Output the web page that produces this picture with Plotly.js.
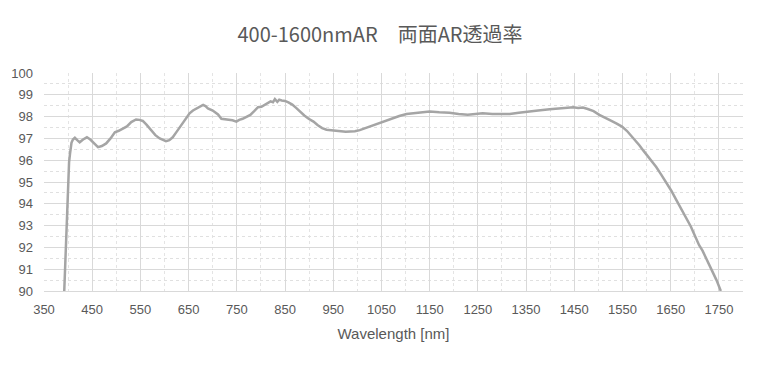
<!DOCTYPE html>
<html>
<head>
<meta charset="utf-8">
<script src="https://cdn.plot.ly/plotly-3.0.1.min.js"></script>
<style>html,body{margin:0;padding:0;background:#fff;}#chart{width:760px;height:365px;}</style>
</head>
<body>
<div id="chart"></div>
<script>
const chartTitle = "400-1600nmAR\u3000両面AR透過率";
const xAxisTitle = "Wavelength [nm]";
const wavelength = [392,395,398,400,402,404,407,410,414,419,424,431,439,446,454,462,470,479,488,497,505,514,522,531,541,548,555,563,572,581,590,597,603,610,617,625,634,643,652,659,666,673,680,685,690,700,711,718,725,733,741,749,755,762,770,778,786,794,801,808,815,820,825,829,834,838,843,850,857,865,873,881,890,899,909,918,927,936,946,957,966,976,986,995,1005,1015,1024,1032,1046,1060,1073,1087,1102,1116,1130,1150,1170,1191,1210,1229,1245,1260,1280,1300,1316,1335,1350,1375,1399,1420,1435,1448,1458,1468,1478,1490,1502,1515,1527,1538,1549,1559,1568,1577,1585,1593,1602,1610,1620,1630,1640,1651,1661,1671,1682,1692,1700,1709,1716,1726,1735,1745,1754];
const transmittance = [90.0,91.8,94.2,95.3,95.9,96.3,96.8,96.95,97.03,96.92,96.82,96.95,97.05,96.95,96.75,96.6,96.65,96.77,97.0,97.28,97.35,97.47,97.55,97.75,97.87,97.85,97.8,97.62,97.38,97.15,97.0,96.92,96.87,96.92,97.05,97.3,97.6,97.9,98.15,98.28,98.38,98.47,98.54,98.48,98.38,98.28,98.1,97.9,97.88,97.85,97.83,97.77,97.85,97.9,98.0,98.08,98.25,98.43,98.45,98.55,98.62,98.7,98.66,98.8,98.68,98.78,98.74,98.72,98.65,98.55,98.4,98.23,98.05,97.9,97.77,97.6,97.47,97.4,97.38,97.38,97.33,97.3,97.3,97.33,97.38,97.46,97.54,97.61,97.72,97.84,97.95,98.03,98.12,98.16,98.2,98.23,98.2,98.18,98.12,98.08,98.12,98.15,98.12,98.13,98.12,98.18,98.23,98.28,98.34,98.38,98.4,98.43,98.4,98.42,98.35,98.25,98.08,97.95,97.8,97.68,97.54,97.35,97.12,96.92,96.69,96.45,96.2,96.0,95.69,95.35,95.0,94.61,94.2,93.8,93.38,92.95,92.55,92.1,91.85,91.4,90.95,90.5,90.0];
const xTickValues = [350,450,550,650,750,850,950,1050,1150,1250,1350,1450,1550,1650,1750];
const yTickValues = [90,91,92,93,94,95,96,97,98,99,100];

const tickFont = {family: "'Liberation Sans Narrow', 'Liberation Sans', sans-serif", size: 13, color: "#595959"};

Plotly.newPlot("chart", [{
  x: wavelength,
  y: transmittance,
  type: "scatter",
  mode: "lines",
  line: {color: "#a5a5a5", width: 2.5},
  hoverinfo: "skip"
}], {
  width: 760, height: 365,
  margin: {l: 44, r: 17, t: 73, b: 74},
  paper_bgcolor: "#ffffff",
  plot_bgcolor: "#ffffff",
  showlegend: false,
  title: {
    text: chartTitle,
    x: 0.5, xanchor: "center", y: 0.905, yanchor: "middle",
    font: {family: "'Noto Sans CJK JP', sans-serif", size: 20, color: "#595959"}
  },
  xaxis: {
    range: [350, 1800],
    tickmode: "array",
    tickvals: xTickValues,
    ticktext: xTickValues.map(String),
    tickfont: tickFont,
    ticklabelstandoff: 6,
    showgrid: true,
    gridcolor: "#d9d9d9",
    gridwidth: 1,
    minor: {tickmode: "linear", tick0: 400, dtick: 100, showgrid: true, gridcolor: "#e4e4e4", griddash: "dot", gridwidth: 1},
    showline: true, linecolor: "#d9d9d9", linewidth: 1,
    zeroline: false,
    ticks: "", ticklen: 0,
    title: {text: xAxisTitle, font: {family: "'Liberation Sans Narrow', 'Liberation Sans', sans-serif", size: 15, color: "#595959"}, standoff: 12}
  },
  yaxis: {
    range: [90, 100],
    tickmode: "array",
    tickvals: yTickValues,
    ticktext: yTickValues.map(String),
    tickfont: tickFont,
    ticklabelstandoff: 10,
    showgrid: true,
    gridcolor: "#d9d9d9",
    gridwidth: 1,
    minor: {tickmode: "linear", tick0: 90.5, dtick: 1, showgrid: true, gridcolor: "#e0e0e0", griddash: "dot", gridwidth: 1},
    showline: false,
    zeroline: false,
    ticks: "", ticklen: 0
  }
}, {displayModeBar: false, staticPlot: true});
</script>
</body>
</html>
